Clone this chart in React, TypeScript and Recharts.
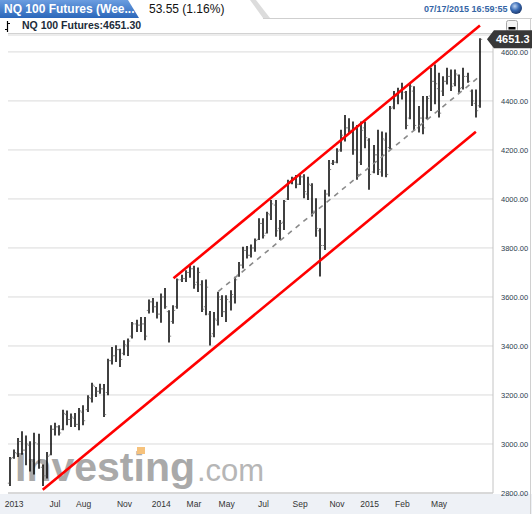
import React from 'react';
import {
  ComposedChart,
  Bar,
  XAxis,
  YAxis,
  CartesianGrid,
  ReferenceLine,
  ReferenceDot
} from 'recharts';

// weekly OHLC, NQ 100 futures
const highs = [
  2947, 2978, 3024, 3052, 3035, 3011, 3046, 3042, 2916, 2967,
  3076, 3087, 3076, 3140, 3137, 3124, 3126, 3147, 3158, 3199,
  3250, 3233, 3246, 3245, 3348, 3396, 3403, 3389, 3423, 3430,
  3498, 3507, 3518, 3518, 3590, 3596, 3580, 3614, 3637, 3546,
  3566, 3675, 3691, 3709, 3729, 3727, 3720, 3668, 3671, 3543,
  3539, 3621, 3607, 3607, 3627, 3682, 3743, 3805, 3808, 3814,
  3839, 3921, 3921, 3948, 3996, 3996, 3914, 3996, 4078, 4091,
  4098, 4098, 4101, 4091, 4064, 4003, 3880, 4037, 4159, 4159,
  4207, 4282, 4343, 4329, 4316, 4302, 4316, 4316, 4248, 4220,
  4282, 4275, 4271, 4379, 4440, 4454, 4474, 4440, 4474, 4460,
  4379, 4420, 4420, 4535, 4549, 4515, 4501, 4535, 4528, 4528,
  4508, 4535, 4515, 4447, 4447, 4656
];
const lows = [
  2829, 2940, 2947, 2956, 2913, 2888, 2875, 2899, 2829, 2859,
  2954, 3035, 3035, 3056, 3076, 3069, 3069, 3056, 3076, 3131,
  3169, 3192, 3205, 3110, 3199, 3324, 3335, 3314, 3362, 3359,
  3430, 3457, 3457, 3423, 3532, 3536, 3512, 3495, 3552, 3414,
  3491, 3552, 3661, 3661, 3678, 3634, 3620, 3539, 3525, 3402,
  3436, 3484, 3518, 3498, 3545, 3573, 3682, 3716, 3757, 3761,
  3784, 3832, 3839, 3859, 3914, 3846, 3832, 3873, 3996, 4060,
  4044, 4057, 4003, 3996, 3928, 3846, 3683, 3792, 4010, 4139,
  4146, 4193, 4234, 4268, 4180, 4078, 4139, 4207, 4037, 4105,
  4098, 4091, 4088, 4203, 4366, 4386, 4406, 4284, 4325, 4278,
  4271, 4264, 4325, 4359, 4386, 4332, 4420, 4467, 4440, 4460,
  4433, 4447, 4474, 4379, 4332, 4372
];
const opens = [
  2840, 2945, 2960, 3010, 2975, 2995, 2930, 3000, 2905, 2870,
  2955, 3060, 3070, 3060, 3120, 3100, 3105, 3080, 3130, 3140,
  3185, 3235, 3215, 3225, 3210, 3340, 3360, 3385, 3370, 3400,
  3440, 3490, 3485, 3490, 3545, 3580, 3560, 3530, 3600, 3540,
  3500, 3560, 3670, 3675, 3700, 3715, 3660, 3650, 3560, 3530,
  3450, 3505, 3590, 3540, 3580, 3600, 3690, 3730, 3790, 3770,
  3800, 3835, 3900, 3860, 3935, 3975, 3880, 3905, 4000, 4070,
  4080, 4060, 4090, 4020, 4055, 3950, 3870, 3810, 4020, 4145,
  4150, 4200, 4250, 4290, 4280, 4200, 4150, 4290, 4240, 4110,
  4180, 4110, 4240, 4210, 4375, 4420, 4440, 4435, 4330, 4440,
  4290, 4330, 4330, 4420, 4480, 4450, 4440, 4480, 4500, 4470,
  4505, 4455, 4500, 4440, 4390, 4380
];
const closes = [
  2940, 2965, 3010, 2975, 3000, 2935, 3005, 2935, 2870, 2950,
  3060, 3070, 3045, 3125, 3100, 3110, 3080, 3135, 3095, 3190,
  3240, 3215, 3225, 3120, 3340, 3360, 3385, 3345, 3405, 3420,
  3490, 3485, 3490, 3440, 3580, 3560, 3530, 3600, 3560, 3440,
  3545, 3670, 3675, 3700, 3715, 3650, 3700, 3550, 3640, 3440,
  3510, 3600, 3540, 3590, 3610, 3670, 3730, 3790, 3770, 3800,
  3830, 3900, 3850, 3940, 3980, 3870, 3900, 3990, 4070, 4085,
  4060, 4090, 4030, 4060, 3950, 3880, 3810, 4020, 4120, 4150,
  4195, 4260, 4290, 4280, 4200, 4100, 4280, 4250, 4100, 4180,
  4120, 4245, 4100, 4370, 4420, 4440, 4450, 4300, 4460, 4300,
  4330, 4290, 4410, 4480, 4470, 4350, 4480, 4500, 4460, 4510,
  4450, 4500, 4480, 4400, 4360, 4651.3
];

const tickIndex = [1, 11, 18, 28, 37, 45, 53, 62, 71, 80, 88, 96, 105];
const tickLabels = ['2013', 'Jul', 'Aug', 'Nov', '2014', 'Mar', 'May', 'Jul', 'Sep', 'Nov', '2015', 'Feb', 'May'];
const priceTicks = [2800, 3000, 3200, 3400, 3600, 3800, 4000, 4200, 4400, 4600];
const priceDomain = [2800, 4669];
const lastPrice = 4651.3;

// channel drawn on the chart: [week index, price] pairs
const upperChannel = [[40, 3676], [115, 4708]];
const lowerChannel = [[8, 2813], [114, 4274]];
const midChannel = [[51, 3623], [115, 4501]];

const data = highs.map((h, i) => ({
  i,
  range: [lows[i], h],
  open: opens[i],
  close: closes[i]
}));

const OhlcBar = (props: any) => {
  const { x, y, width, height, payload } = props;
  if (!payload) return null;
  const [low, high] = payload.range;
  const k = high > low ? height / (high - low) : 0;
  const cx = Math.round(x + width / 2);
  const yo = y + (high - payload.open) * k;
  const yc = y + (high - payload.close) * k;
  return (
    <g>
      <line x1={cx} x2={cx} y1={y} y2={y + height} stroke="#000" strokeWidth={1.5} />
      <line x1={cx - 2.2} x2={cx - 0.8} y1={yo} y2={yo} stroke="#8a8a8a" strokeWidth={1} />
      <line x1={cx + 0.8} x2={cx + 2.2} y1={yc} y2={yc} stroke="#8a8a8a" strokeWidth={1} />
    </g>
  );
};

const PriceTag = (props: any) => {
  const { cx, cy } = props;
  if (cx == null || cy == null) return null;
  const tip = cx + 7;
  return (
    <g>
      <polygon
        points={`${tip},${cy} ${tip + 7},${cy - 9} ${tip + 50},${cy - 9} ${tip + 50},${cy + 9} ${tip + 7},${cy + 9}`}
        fill="#383838"
      />
      <text x={tip + 9} y={cy + 4} fill="#fff" fontSize={11} fontWeight="bold" fontFamily='"Liberation Sans", Arial, sans-serif'>
        {lastPrice.toFixed(1)}
      </text>
    </g>
  );
};

const xLabel = (v: number) => {
  const k = tickIndex.indexOf(v);
  return k >= 0 ? tickLabels[k] : '';
};

export default function App() {
  const font = '"Liberation Sans", Arial, sans-serif';
  return (
    <div style={{ position: 'absolute', left: 0, top: 0, width: 532, height: 514, background: '#fff', fontFamily: font, overflow: 'hidden' }}>
      {/* tabs + header row */}
      <svg width={532} height={34} style={{ position: 'absolute', left: 0, top: 0 }}>
        <defs>
          <linearGradient id="tabBlue" x1="0" y1="0" x2="0" y2="1">
            <stop offset="0" stopColor="#6b9de0" />
            <stop offset="1" stopColor="#2b67ba" />
          </linearGradient>
          <radialGradient id="ball" cx="0.4" cy="0.35" r="0.7">
            <stop offset="0" stopColor="#bcd3f2" />
            <stop offset="0.5" stopColor="#3a6cb5" />
            <stop offset="1" stopColor="#1b3566" />
          </radialGradient>
        </defs>
        <polygon points="250,0 256,0 270,18 263,18" fill="#dcdcdc" />
        <line x1={263} y1={18.5} x2={532} y2={18.5} stroke="#cfcfcf" />
        <polygon points="0,0 128,0 139,18 0,18" fill="url(#tabBlue)" />
        <text x={4} y={13} fill="#fff" fontSize={12} fontWeight="bold">NQ 100 Futures (Wee...</text>
        <text x={149} y={13} fill="#111" fontSize={12}>53.55 (1.16%)</text>
        <text x={424} y={12} fill="#3565a5" fontSize={9} fontWeight="bold">07/17/2015 16:59:55</text>
        <circle cx={516} cy={8} r={6} fill="url(#ball)" />
        {/* small OHLC glyph */}
        <line x1={7.5} y1={21} x2={7.5} y2={32} stroke="#000" strokeWidth={1.2} />
        <line x1={5} y1={29.5} x2={7.5} y2={29.5} stroke="#000" />
        <line x1={7.5} y1={23.5} x2={10} y2={23.5} stroke="#000" />
        <text x={22} y={29} fill="#1c2b39" fontSize={10.5} fontWeight="bold">NQ 100 Futures:4651.30</text>
        <rect x={506.5} y={20.5} width={11} height={11} rx={2} fill="#f4f4f4" stroke="#a8a8a8" />
        <rect x={508.5} y={27} width={7} height={2.5} fill="#000" />
        <line x1={8} y1={33.5} x2={493} y2={33.5} stroke="#d2d2d2" />
      </svg>
      {/* axis strip and outer border */}
      <div style={{ position: 'absolute', left: 0, top: 494, width: 532, height: 20, background: '#eef1f6' }} />
      <div style={{ position: 'absolute', left: 530, top: 18, width: 1, height: 496, background: '#d0d0d0' }} />
      {/* watermark */}
      <svg width={532} height={514} style={{ position: 'absolute', left: 0, top: 0 }}>
        <text x={15} y={481} fill="#a9a9a9" fontSize={41} fontWeight="bold" fontFamily={font}>Investing</text>
        <text x={197} y={481} fill="#b6b6b6" fontSize={31} fontFamily={font}>.com</text>
        <rect x={137} y={447} width={8} height={7} fill="#f6c27c" />
      </svg>
      <div style={{ position: 'absolute', left: 0, top: 0 }}>
        <ComposedChart width={532} height={514} data={data} margin={{ top: 35, right: 0, bottom: 0, left: 8 }}>
          <CartesianGrid vertical={false} stroke="#dadada" />
          <XAxis
            dataKey="i"
            type="category"
            ticks={tickIndex}
            interval={0}
            tickFormatter={xLabel}
            tickLine={false}
            axisLine={{ stroke: '#c4c4c4' }}
            height={21}
            padding={{ left: 0, right: 11 }}
            tick={{ fill: '#333', fontSize: 8.5, fontFamily: font }}
          />
          <YAxis
            orientation="right"
            domain={priceDomain}
            ticks={priceTicks}
            interval={0}
            allowDataOverflow
            width={39}
            tickLine={false}
            axisLine={{ stroke: '#c4c4c4' }}
            tickFormatter={(v: number) => v.toFixed(2)}
            tick={{ fill: '#2c3d4d', fontSize: 7.5, fontFamily: font }}
          />
          <Bar dataKey="range" shape={<OhlcBar />} isAnimationActive={false} />
          <ReferenceLine
            segment={[{ x: midChannel[0][0], y: midChannel[0][1] }, { x: midChannel[1][0], y: midChannel[1][1] }]}
            stroke="#8a8a8a"
            strokeWidth={1.6}
            strokeDasharray="5 5"
            ifOverflow="visible"
          />
          <ReferenceLine
            segment={[{ x: upperChannel[0][0], y: upperChannel[0][1] }, { x: upperChannel[1][0], y: upperChannel[1][1] }]}
            stroke="#ff0000"
            strokeWidth={2.6}
            ifOverflow="visible"
          />
          <ReferenceLine
            segment={[{ x: lowerChannel[0][0], y: lowerChannel[0][1] }, { x: lowerChannel[1][0], y: lowerChannel[1][1] }]}
            stroke="#ff0000"
            strokeWidth={2.6}
            ifOverflow="visible"
          />
          <ReferenceDot x={115} y={lastPrice} r={0} shape={<PriceTag />} ifOverflow="visible" />
        </ComposedChart>
      </div>
    </div>
  );
}
